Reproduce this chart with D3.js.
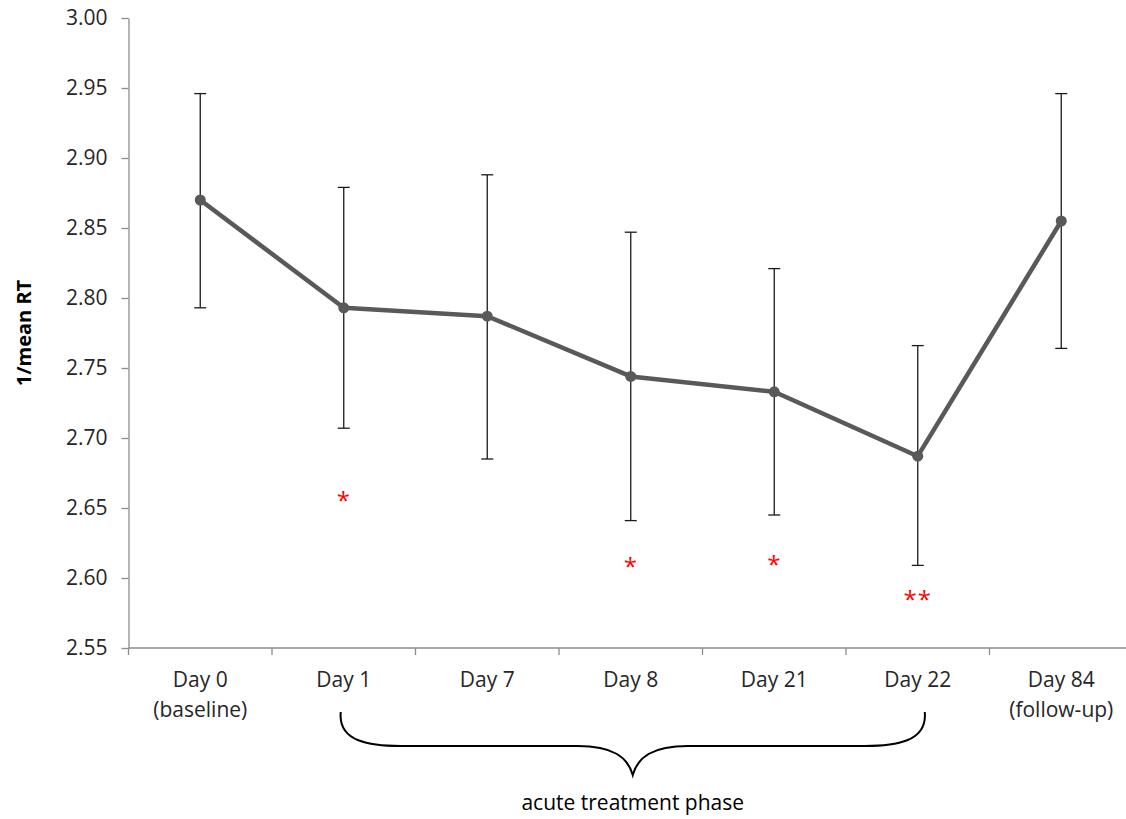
<!DOCTYPE html>
<html>
<head>
<meta charset="utf-8">
<script src="https://cdn.jsdelivr.net/npm/d3@7/dist/d3.min.js"></script>
<style>
  html, body { margin: 0; padding: 0; background: #fff; }
  svg { display: block; font-family: "Open Sans", "Noto Sans", sans-serif; }
</style>
</head>
<body>
<svg id="chart" width="1126" height="819"></svg>
<script>
// Reaction-time measure across study visits
const categories = ["Day 0\n(baseline)", "Day 1", "Day 7", "Day 8", "Day 21", "Day 22", "Day 84\n(follow-up)"];
const meanValues = [2.870, 2.793, 2.787, 2.744, 2.733, 2.687, 2.855];
const upperValues = [2.946, 2.879, 2.888, 2.847, 2.821, 2.766, 2.946];
const lowerValues = [2.793, 2.707, 2.685, 2.641, 2.645, 2.609, 2.764];
const significance = ["", "*", "", "*", "*", "**", ""];
const sigLevels = [null, 2.658, null, 2.611, 2.612, 2.587, null];
const yTicks = [2.55, 2.60, 2.65, 2.70, 2.75, 2.80, 2.85, 2.90, 2.95, 3.00];
const phaseLabel = "acute treatment phase";
const phaseRange = ["Day 1", "Day 22"];
const yLabel = "1/mean RT";

(function () {
const svg = d3.select("#chart");
const margin = { left: 128.5, top: 18, bottom: 171 };
const plotRight = 128.5 + 7 * 143.5;
const height = 819;

const x = d3.scaleBand().domain(categories).range([margin.left, plotRight]).padding(0);
const y = d3.scaleLinear().domain([2.55, 3.00]).range([height - margin.bottom, margin.top]);

const axisColor = "#8c8c8c";
const textColor = "#262626";

// y axis
const yAxis = svg.append("g")
  .attr("transform", `translate(${margin.left},0)`)
  .call(d3.axisLeft(y).tickValues(yTicks).tickFormat(d3.format(".2f")).tickSize(7).tickSizeOuter(0));
yAxis.select(".domain").attr("stroke", axisColor).attr("stroke-width", 1.3);
yAxis.selectAll(".tick line").attr("stroke", axisColor).attr("stroke-width", 1.3);
yAxis.selectAll(".tick text").attr("fill", textColor).attr("font-size", 21).attr("x", -21)
  .attr("font-family", "'Open Sans', sans-serif");

// x axis with ticks at category boundaries
const xg = svg.append("g").attr("transform", `translate(0,${y(2.55)})`);
xg.append("line").attr("x1", margin.left).attr("x2", plotRight)
  .attr("stroke", axisColor).attr("stroke-width", 1.3);
const boundaries = categories.map(c => x(c)).concat([plotRight]);
xg.selectAll("line.tk").data(boundaries).join("line").attr("class", "tk")
  .attr("x1", d => d).attr("x2", d => d).attr("y1", 0).attr("y2", 7)
  .attr("stroke", axisColor).attr("stroke-width", 1.3);
const lbl = xg.selectAll("text.cat").data(categories).join("text").attr("class", "cat")
  .attr("text-anchor", "middle").attr("fill", textColor).attr("font-size", 21)
  .attr("transform", d => `translate(${x(d) + x.bandwidth() / 2},0)`);
lbl.selectAll("tspan").data(d => d.split("\n")).join("tspan")
  .attr("x", 0).attr("y", (d, i) => 39 + i * 30).text(d => d);

// y axis title
svg.append("text")
  .attr("transform", `translate(31,${y(2.775)}) rotate(-90)`)
  .attr("text-anchor", "middle").attr("font-weight", "bold").attr("font-size", 20)
  .attr("fill", "#000").text(yLabel);

const cx = c => x(c) + x.bandwidth() / 2;
const rows = categories.map((c, i) => ({ c, m: meanValues[i], hi: upperValues[i], lo: lowerValues[i], s: significance[i], sy: sigLevels[i] }));

// error bars
const eb = svg.append("g").attr("stroke", "#1a1a1a").attr("stroke-width", 1.3);
eb.selectAll("line.v").data(rows).join("line").attr("class", "v")
  .attr("x1", d => cx(d.c)).attr("x2", d => cx(d.c)).attr("y1", d => y(d.hi)).attr("y2", d => y(d.lo));
eb.selectAll("line.t").data(rows).join("line").attr("class", "t")
  .attr("x1", d => cx(d.c) - 6).attr("x2", d => cx(d.c) + 6).attr("y1", d => y(d.hi)).attr("y2", d => y(d.hi));
eb.selectAll("line.b").data(rows).join("line").attr("class", "b")
  .attr("x1", d => cx(d.c) - 6).attr("x2", d => cx(d.c) + 6).attr("y1", d => y(d.lo)).attr("y2", d => y(d.lo));

// mean line and markers
svg.append("path").datum(rows)
  .attr("fill", "none").attr("stroke", "#595959").attr("stroke-width", 4.5).attr("stroke-linejoin", "round")
  .attr("d", d3.line().x(d => cx(d.c)).y(d => y(d.m)));
svg.selectAll("circle.pt").data(rows).join("circle").attr("class", "pt")
  .attr("cx", d => cx(d.c)).attr("cy", d => y(d.m)).attr("r", 5.5).attr("fill", "#595959");

// significance markers (glyph centred on its level)
svg.selectAll("text.sig").data(rows.filter(d => d.s)).join("text").attr("class", "sig")
  .attr("x", d => cx(d.c)).attr("y", d => y(d.sy)).attr("dy", 12).attr("text-anchor", "middle")
  .attr("fill", "#ff0000").attr("font-size", 24).attr("letter-spacing", 1).text(d => d.s);

// brace spanning the acute treatment phase
const bx0 = cx(phaseRange[0]) - 3, bx1 = cx(phaseRange[1]) + 7;
const bm = (bx0 + bx1) / 2;
const braceTop = 712, braceMid = 746, braceTip = 775;
const brace = d3.path();
brace.moveTo(bx0, braceTop);
brace.bezierCurveTo(bx0 - 3, braceMid - 4, bx0 + 30, braceMid, bx0 + 60, braceMid);
brace.lineTo(bm - 55, braceMid);
brace.bezierCurveTo(bm - 20, braceMid, bm - 5, braceTip - 18, bm, braceTip);
brace.bezierCurveTo(bm + 5, braceTip - 18, bm + 20, braceMid, bm + 55, braceMid);
brace.lineTo(bx1 - 60, braceMid);
brace.bezierCurveTo(bx1 - 30, braceMid, bx1 + 3, braceMid - 4, bx1, braceTop);
svg.append("path").attr("d", brace.toString()).attr("fill", "none").attr("stroke", "#000").attr("stroke-width", 2);

svg.append("text").attr("x", bm).attr("y", 810).attr("text-anchor", "middle")
  .attr("font-size", 21).attr("fill", "#000").text(phaseLabel);
})();
</script>
</body>
</html>
